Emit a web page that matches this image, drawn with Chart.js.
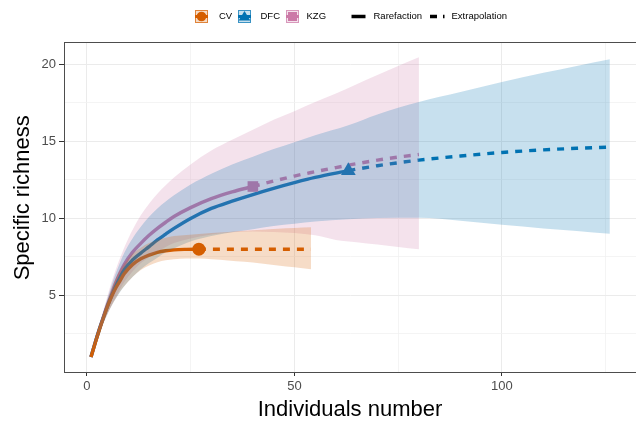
<!DOCTYPE html>
<html>
<head>
<meta charset="utf-8">
<script src="https://cdn.jsdelivr.net/npm/chart.js@4"></script>
<style>
  html, body { margin: 0; padding: 0; background: #fff; }
  #wrap { width: 636px; height: 423px; }
</style>
</head>
<body>
<div id="wrap"><canvas id="chart" width="636" height="423"></canvas></div>
<script>
// sites and colours
const sites = ['CV', 'DFC', 'KZG'];
const siteColors = ['#D55E00', '#0072B2', '#CC79A7'];
const xTickLabels = [0, 50, 100];
const yTickLabels = [5, 10, 15, 20];

// CV: rarefaction / extrapolation / confidence band
const cvRareX = [1, 2, 3, 4, 5, 6, 7, 8, 9, 11, 13, 15, 17, 19, 21, 24, 27];
const cvRareY = [1, 1.9, 2.75, 3.55, 4.3, 4.95, 5.5, 5.95, 6.4, 7.0, 7.38, 7.62, 7.8, 7.9, 7.96, 7.99, 8.0];
const cvExtX = [27, 30, 34, 38, 42, 46, 50, 54];
const cvExtY = [8, 8, 8, 8, 8, 8, 8, 8];
const cvLow = [1, 1.82, 2.58, 3.22, 3.82, 4.35, 4.82, 5.25, 5.6, 6.2, 6.65, 6.95, 7.15, 7.28, 7.35, 7.4, 7.4,
  7.35, 7.27, 7.18, 7.08, 6.95, 6.83, 6.7];
const cvUpp = [1, 2.0, 2.95, 3.88, 4.75, 5.5, 6.15, 6.65, 7.05, 7.7, 8.1, 8.4, 8.6, 8.75, 8.85, 8.93, 8.98,
  9.05, 9.12, 9.2, 9.27, 9.33, 9.38, 9.42];

// DFC
const dfcRareX = [1, 2, 3, 4, 5, 6, 7, 9, 11, 13, 15, 17, 19, 21, 25, 30, 35, 40, 45, 50, 55, 63];
const dfcRareY = [1, 1.92, 2.78, 3.58, 4.32, 5.0, 5.62, 6.65, 7.3, 7.75, 8.17, 8.6, 8.98, 9.35, 10.0, 10.65, 11.12, 11.55, 11.95, 12.32, 12.66, 13.1];
const dfcExtX = [63, 70, 80, 90, 100, 110, 118, 126];
const dfcExtY = [13.1, 13.42, 13.78, 14.05, 14.28, 14.45, 14.55, 14.63];
const dfcLow = [1, 1.8, 2.55, 3.2, 3.8, 4.35, 4.8, 5.6, 6.2, 6.7, 7.1, 7.45, 7.8, 8.05, 8.5, 8.85, 9.1, 9.3, 9.5, 9.65, 9.8, 9.95,
  10.03, 10.05, 9.85, 9.58, 9.35, 9.18, 9.0];
const dfcUpp = [1, 2.04, 3.0, 3.95, 4.85, 5.7, 6.45, 7.75, 8.7, 9.45, 10.1, 10.65, 11.1, 11.5, 12.2, 12.9, 13.5, 14.0, 14.5, 14.95, 15.4, 16.05,
  16.75, 17.55, 18.2, 18.85, 19.45, 19.9, 20.33];

// KZG
const kzgRareX = [1, 2, 3, 4, 5, 6, 7, 9, 11, 13, 15, 17, 19, 21, 25, 30, 35, 40];
const kzgRareY = [1, 1.93, 2.8, 3.62, 4.4, 5.12, 5.85, 7.0, 7.8, 8.38, 8.9, 9.35, 9.75, 10.12, 10.7, 11.28, 11.72, 12.07];
const kzgExtX = [40, 45, 50, 55, 60, 65, 70, 75, 80];
const kzgExtY = [12.07, 12.42, 12.75, 13.03, 13.3, 13.55, 13.78, 13.98, 14.15];
const kzgLow = [1, 1.82, 2.55, 3.22, 3.85, 4.4, 4.9, 5.85, 6.55, 7.1, 7.5, 7.85, 8.15, 8.4, 8.7, 8.95, 9.1, 9.15,
  9.12, 9.05, 8.9, 8.6, 8.45, 8.3, 8.15, 8.0];
const kzgUpp = [1, 2.05, 3.05, 4.05, 5.0, 5.9, 6.7, 8.1, 9.25, 10.2, 10.95, 11.6, 12.15, 12.65, 13.5, 14.4, 15.1, 15.75,
  16.4, 16.95, 17.55, 18.1, 18.7, 19.3, 19.9, 20.46];

const series = [
  { rareX: cvRareX, rareY: cvRareY, extX: cvExtX, extY: cvExtY, low: cvLow, upp: cvUpp, marker: 'circle', size: 6.5 },
  { rareX: dfcRareX, rareY: dfcRareY, extX: dfcExtX, extY: dfcExtY, low: dfcLow, upp: dfcUpp, marker: 'triangle', size: 8.5 },
  { rareX: kzgRareX, rareY: kzgRareY, extX: kzgExtX, extY: kzgExtY, low: kzgLow, upp: kzgUpp, marker: 'rect', size: 7.5 }
];

function pts(xs, ys) {
  return xs.map((x, i) => ({ x: x, y: ys[i] }));
}

function rgba(hex, a) {
  const n = parseInt(hex.slice(1), 16);
  return `rgba(${(n >> 16) & 255}, ${(n >> 8) & 255}, ${n & 255}, ${a})`;
}

const datasets = [];

// bands first so they are drawn on top of lines, like ggiNEXT
series.forEach((s, i) => {
  const bandX = s.rareX.concat(s.extX.slice(1));
  datasets.push({
    label: sites[i] + ' lower', data: pts(bandX, s.low),
    borderWidth: 0, borderColor: 'transparent', pointRadius: 0, fill: false,
    cubicInterpolationMode: 'monotone'
  });
  datasets.push({
    label: sites[i] + ' upper', data: pts(bandX, s.upp),
    borderWidth: 0, borderColor: 'transparent', pointRadius: 0, fill: '-1',
    backgroundColor: rgba(siteColors[i], 0.22),
    cubicInterpolationMode: 'monotone'
  });
});

// observed points
series.forEach((s, i) => {
  const n = s.rareX.length - 1;
  datasets.push({
    label: sites[i] + ' observed', data: pts([s.rareX[n]], [s.rareY[n]]),
    showLine: false, pointStyle: s.marker, pointRadius: s.size,
    pointBackgroundColor: siteColors[i], pointBorderColor: siteColors[i], pointBorderWidth: 0
  });
});

// extrapolation + rarefaction lines
series.forEach((s, i) => {
  datasets.push({
    label: sites[i] + ' extrapolation', data: pts(s.extX, s.extY),
    borderColor: siteColors[i], borderWidth: 3.4, borderDash: [7, 7], borderCapStyle: 'butt',
    pointRadius: 0, fill: false, cubicInterpolationMode: 'monotone'
  });
  datasets.push({
    label: sites[i] + ' rarefaction', data: pts(s.rareX, s.rareY),
    borderColor: siteColors[i], borderWidth: 3.4, borderCapStyle: 'butt',
    pointRadius: 0, fill: false, cubicInterpolationMode: 'monotone'
  });
});

const FONT = "'Liberation Sans', Arial, sans-serif";

// panel border + ggplot style legend
const decor = {
  id: 'decor',
  afterDraw(chart) {
    const ctx = chart.ctx;
    const a = chart.chartArea;
    ctx.save();
    ctx.strokeStyle = '#4d4d4d';
    ctx.lineWidth = 1;
    ctx.strokeRect(a.left + 0.5, a.top + 0.5, a.right - a.left, a.bottom - a.top);

    const keyY = 10, keyS = 13, midY = keyY + keyS / 2;
    const boxes = [195, 238, 286];
    const textX = [219, 260.5, 306.5];
    ctx.font = '9.5px ' + FONT;
    ctx.textBaseline = 'middle';
    ctx.fillStyle = '#000';
    boxes.forEach((bx, i) => {
      const c = siteColors[i];
      ctx.fillStyle = '#fff';
      ctx.fillRect(bx, keyY, keyS, keyS);
      ctx.strokeStyle = c;
      ctx.lineWidth = 3;
      ctx.beginPath();
      ctx.moveTo(bx, midY);
      ctx.lineTo(bx + keyS, midY);
      ctx.stroke();
      ctx.fillStyle = c;
      const cx = bx + keyS / 2;
      ctx.beginPath();
      if (i === 0) {
        ctx.arc(cx, midY, 4.8, 0, Math.PI * 2);
      } else if (i === 1) {
        ctx.moveTo(cx, midY - 5.5);
        ctx.lineTo(cx + 5.8, midY + 4);
        ctx.lineTo(cx - 5.8, midY + 4);
        ctx.closePath();
      } else {
        ctx.rect(cx - 4.5, midY - 4.5, 9, 9);
      }
      ctx.fill();
      ctx.fillStyle = rgba(c, 0.22);
      ctx.fillRect(bx, keyY, keyS, keyS);
      ctx.strokeStyle = rgba(c, 0.7);
      ctx.lineWidth = 1;
      ctx.strokeRect(bx + 0.5, keyY + 0.5, keyS - 1, keyS - 1);
      ctx.fillStyle = '#000';
      ctx.fillText(sites[i], textX[i], midY);
    });

    // linetype keys
    ctx.strokeStyle = '#000';
    ctx.lineWidth = 3.5;
    ctx.beginPath();
    ctx.moveTo(351.5, midY);
    ctx.lineTo(365.5, midY);
    ctx.stroke();
    ctx.fillText('Rarefaction', 373.5, midY);
    ctx.setLineDash([7, 6]);
    ctx.beginPath();
    ctx.moveTo(430, midY);
    ctx.lineTo(444.5, midY);
    ctx.stroke();
    ctx.setLineDash([]);
    ctx.fillText('Extrapolation', 451.5, midY);
    ctx.restore();
  }
};

const isMajor = (v, step) => Math.abs(v / step - Math.round(v / step)) < 1e-6;

new Chart(document.getElementById('chart').getContext('2d'), {
  type: 'line',
  data: { datasets: datasets },
  options: {
    responsive: false,
    animation: false,
    devicePixelRatio: 1,
    layout: { autoPadding: false, padding: { top: 42, right: 0, left: 0, bottom: 0 } },
    plugins: { legend: { display: false }, tooltip: { enabled: false } },
    scales: {
      x: {
        type: 'linear',
        min: -5.5, max: 132.3,
        afterFit: s => { s.height = 51; s.paddingLeft = 0; s.paddingRight = 0; },
        border: { display: true, color: '#4d4d4d', width: 1 },
        grid: {
          color: c => isMajor(c.tick.value, 50) ? '#ebebeb' : '#f1f1f1',
          lineWidth: c => isMajor(c.tick.value, 50) ? 1 : 0.8,
          tickColor: c => isMajor(c.tick.value, 50) ? '#333333' : 'rgba(0,0,0,0)',
          tickLength: 4
        },
        ticks: {
          stepSize: 25, includeBounds: false, autoSkip: false, maxRotation: 0, padding: 3,
          color: '#4d4d4d', font: { family: FONT, size: 13 },
          callback: v => xTickLabels.includes(v) ? String(v) : ''
        },
        title: {
          display: true, text: 'Individuals number', color: '#000',
          font: { family: FONT, size: 22 }, padding: { top: 0, bottom: 0 }
        }
      },
      y: {
        type: 'linear',
        min: 0.03, max: 21.45,
        afterFit: s => { s.width = 64; s.paddingTop = 0; s.paddingBottom = 0; },
        border: { display: true, color: '#4d4d4d', width: 1 },
        grid: {
          color: c => isMajor(c.tick.value, 5) ? '#ebebeb' : '#f1f1f1',
          lineWidth: c => isMajor(c.tick.value, 5) ? 1 : 0.8,
          tickColor: c => isMajor(c.tick.value, 5) ? '#333333' : 'rgba(0,0,0,0)',
          tickLength: 5
        },
        ticks: {
          stepSize: 2.5, includeBounds: false, autoSkip: false, padding: 3,
          color: '#4d4d4d', font: { family: FONT, size: 13 },
          callback: v => yTickLabels.includes(v) ? String(v) : ''
        },
        title: {
          display: true, text: '   Specific richness', color: '#000',
          font: { family: FONT, size: 22 }, padding: { top: 10, bottom: 0 }
        }
      }
    }
  },
  plugins: [decor]
});
</script>
</body>
</html>
